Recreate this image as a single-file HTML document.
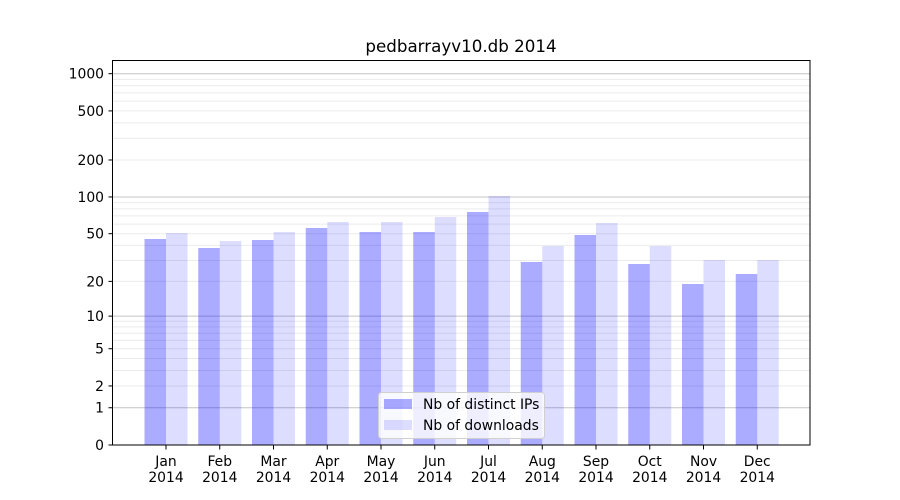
<!DOCTYPE html>
<html><head><meta charset="utf-8"><style>body{margin:0;background:#fff}svg{display:block}</style></head>
<body>
<svg width="900" height="500" xmlns="http://www.w3.org/2000/svg" font-family="DejaVu Sans, Liberation Sans, sans-serif">
<rect width="900" height="500" fill="#fff"/>
<g id="grid"></g>
<g id="bars"></g>
<rect x="112.5" y="60.5" width="697.5" height="384.5" fill="none" stroke="#000" stroke-width="1"/>
<g id="yt" font-size="13.9" text-anchor="end"></g>
<g id="xt" font-size="13.9" text-anchor="middle"></g>
<text x="461" y="52" font-size="16.7" text-anchor="middle">pedbarrayv10.db 2014</text>
<g>
<rect x="378.5" y="392.5" width="166" height="46" rx="3" fill="#fff" fill-opacity="0.8" stroke="#d0d0d0"/>
<rect x="384" y="399" width="28" height="10" fill="rgb(0,0,255)" fill-opacity="0.33"/>
<rect x="384" y="420" width="28" height="10" fill="rgb(0,0,255)" fill-opacity="0.135"/>
<text x="423" y="409" font-size="13.9">Nb of distinct IPs</text>
<text x="423" y="430" font-size="13.9">Nb of downloads</text>
</g>
<script>
var ns="http://www.w3.org/2000/svg";
function Y(v){return 445-123.75*Math.log10(1+v);}
function el(p,t,a,txt){var e=document.createElementNS(ns,t);for(var k in a)e.setAttribute(k,a[k]);if(txt!=null)e.textContent=txt;document.getElementById(p).appendChild(e);return e;}
[1,10,100,1000].forEach(function(d){for(var m=2;m<10;m++){var y=Y(d*m);if(y>60)el("grid","line",{x1:113,x2:810,y1:y,y2:y,stroke:"#ebebeb","stroke-width":1});}});
[1,10,100,1000].forEach(function(d){var y=Y(d);el("grid","line",{x1:113,x2:810,y1:y,y2:y,stroke:"#c4c4c4","stroke-width":1});});
var tops=[[239,233],[248,241],[240,232],[228,222],[232,222],[232,217],[212,196],[262,246],[235,223],[264,246],[284,260],[274,260]];
var mon=["Jan","Feb","Mar","Apr","May","Jun","Jul","Aug","Sep","Oct","Nov","Dec"];
for(var i=0;i<12;i++){var c=166+53.75*i;
el("bars","rect",{x:c-21.5,y:tops[i][0],width:21.5,height:445-tops[i][0],fill:"rgb(0,0,255)","fill-opacity":0.33});
el("bars","rect",{x:c,y:tops[i][1],width:21.5,height:445-tops[i][1],fill:"rgb(0,0,255)","fill-opacity":0.135});
el("xt","line",{x1:c,x2:c,y1:445,y2:449.5,stroke:"#000"});
el("xt","text",{x:c,y:466},mon[i]);el("xt","text",{x:c,y:482},"2014");}
[0,1,2,5,10,20,50,100,200,500,1000].forEach(function(v){var y=Y(v);
el("yt","line",{x1:108.5,x2:113,y1:y,y2:y,stroke:"#000"});
el("yt","text",{x:104,y:y+5},String(v));});
</script>
</svg>
</body></html>
